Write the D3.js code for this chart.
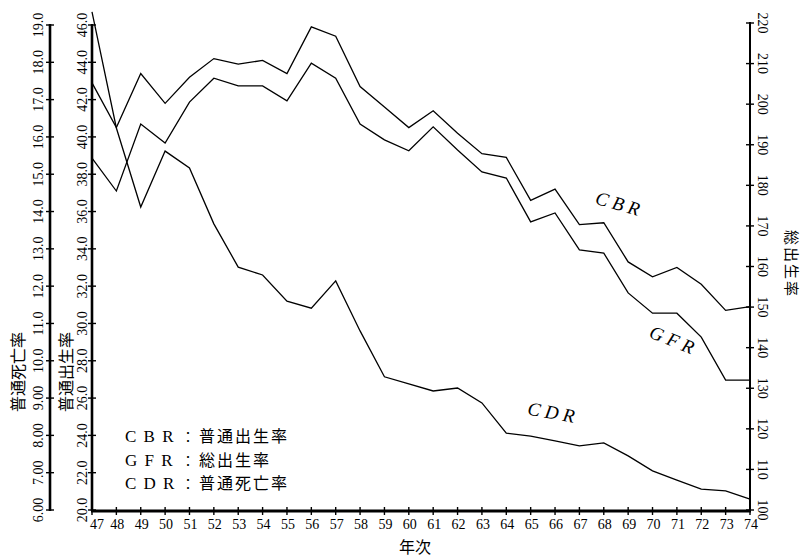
<!DOCTYPE html>
<html>
<head>
<meta charset="utf-8">
<script src="https://cdn.jsdelivr.net/npm/d3@7"></script>
<style>
html,body{margin:0;padding:0;background:#fff;}
svg{display:block;}
</style>
</head>
<body>
<svg id="chart" width="803" height="557"></svg>
<script>
// ---- data ----
const years = [47,48,49,50,51,52,53,54,55,56,57,58,59,60,61,62,63,64,65,66,67,68,69,70,71,72,73,74];
const cbr = [42.9,40.5,43.4,41.8,43.2,44.2,43.9,44.1,43.4,45.9,45.4,42.7,41.6,40.5,41.4,40.2,39.1,38.9,36.6,37.2,35.3,35.4,33.3,32.5,33.0,32.1,30.7,30.9];
const gfr = [186.7,178.6,195.1,190.4,200.5,206.4,204.5,204.5,200.8,210.1,206.4,195.1,191.2,188.5,194.4,188.7,183.3,181.8,171.0,173.2,164.1,163.3,153.5,148.5,148.5,142.6,132.0,132.0];
const cdr = [19.35,16.24,14.12,15.62,15.17,13.67,12.51,12.30,11.60,11.41,12.14,10.80,9.57,9.38,9.19,9.27,8.87,8.06,7.98,7.85,7.72,7.80,7.45,7.05,6.80,6.56,6.51,6.29];

const cdrTicks = [6,7,8,9,10,11,12,13,14,15,16,17,18,19];
const cdrTickLabels = ["6.00","7.00","8.00","9.00","10.0","11.0","12.0","13.0","14.0","15.0","16.0","17.0","18.0","19.0"];
const cbrTicks = [20,22,24,26,28,30,32,34,36,38,40,42,44,46];
const cbrTickLabels = ["20.0","22.0","24.0","26.0","28.0","30.0","32.0","34.0","36.0","38.0","40.0","42.0","44.0","46.0"];
const gfrTicks = [100,110,120,130,140,150,160,170,180,190,200,210,220];
const gfrTickLabels = ["100","110","120","130","140","150","160","170","180","190","200","210","220"];

const legendCodes = ["C B R","G F R","C D R"];
const legendNames = ["普通出生率","総出生率","普通死亡率"];
const leftTitleCDR = "普通死亡率";
const leftTitleCBR = "普通出生率";
const rightTitle = "総出生率";
const xTitle = "年次";

// ---- drawing ----
const svg = d3.select("#chart");
const serif = '"Liberation Serif","DejaVu Serif",serif';
const cjk = '"Noto Sans CJK JP","Noto Sans CJK SC",sans-serif';

const x = d3.scaleLinear().domain([47,74]).range([92,750]);
const yCBR = d3.scaleLinear().domain([20,46]).range([510,25]);
const yCDR = d3.scaleLinear().domain([6,19]).range([510,25]);
const yGFR = d3.scaleLinear().domain([100,220]).range([510,23]);

const axisCDRx = 50;
const axisBaseY = 511;

// CDR axis (far left)
const gCDR = svg.append("g");
gCDR.append("line").attr("x1",axisCDRx).attr("x2",axisCDRx)
  .attr("y1",yCDR(19)-1).attr("y2",yCDR(6)+1)
  .attr("stroke","#000").attr("stroke-width",2.6);
cdrTicks.forEach((t,i)=>{
  gCDR.append("line").attr("x1",axisCDRx-4).attr("x2",axisCDRx+4)
    .attr("y1",yCDR(t)).attr("y2",yCDR(t)).attr("stroke","#000").attr("stroke-width",1.4);
  gCDR.append("text").attr("transform",`translate(43,${yCDR(t)}) rotate(-90)`)
    .attr("text-anchor","middle").attr("font-family",serif).attr("font-size",14)
    .text(cdrTickLabels[i]);
});

// CBR axis (second left)
const gCBR = svg.append("g");
gCBR.append("line").attr("x1",x(47)).attr("x2",x(47))
  .attr("y1",yCBR(46)-1).attr("y2",axisBaseY)
  .attr("stroke","#000").attr("stroke-width",2.6);
cbrTicks.forEach((t,i)=>{
  gCBR.append("line").attr("x1",x(47)-4).attr("x2",x(47)+4)
    .attr("y1",yCBR(t)).attr("y2",yCBR(t)).attr("stroke","#000").attr("stroke-width",1.4);
  gCBR.append("text").attr("transform",`translate(87,${yCBR(t)}) rotate(-90)`)
    .attr("text-anchor","middle").attr("font-family",serif).attr("font-size",14)
    .text(cbrTickLabels[i]);
});

// right GFR axis
const gGFR = svg.append("g");
gGFR.append("line").attr("x1",x(74)).attr("x2",x(74))
  .attr("y1",yGFR(220)-1).attr("y2",axisBaseY)
  .attr("stroke","#000").attr("stroke-width",2);
gfrTicks.forEach((t,i)=>{
  gGFR.append("line").attr("x1",x(74)-4).attr("x2",x(74)+4)
    .attr("y1",yGFR(t)).attr("y2",yGFR(t)).attr("stroke","#000").attr("stroke-width",1.4);
  gGFR.append("text").attr("transform",`translate(758,${yGFR(t)}) rotate(90)`)
    .attr("text-anchor","middle").attr("font-family",serif).attr("font-size",14)
    .text(gfrTickLabels[i]);
});

// x axis
const gX = svg.append("g");
gX.append("line").attr("x1",x(47)-1).attr("x2",x(74)+1)
  .attr("y1",axisBaseY).attr("y2",axisBaseY)
  .attr("stroke","#000").attr("stroke-width",2.8);
years.forEach(yr=>{
  gX.append("line").attr("x1",x(yr)).attr("x2",x(yr))
    .attr("y1",axisBaseY-4).attr("y2",axisBaseY+4).attr("stroke","#000").attr("stroke-width",1.4);
  gX.append("text").attr("x",x(yr)+(yr===47?5:1)).attr("y",529)
    .attr("text-anchor","middle").attr("font-family",serif).attr("font-size",14)
    .text(yr);
});

// data lines
const lineOf = (ys, arr)=> d3.line().x((d,i)=>x(years[i])).y(d=>ys(d))(arr);
svg.append("path").attr("d",lineOf(yCBR,cbr)).attr("fill","none").attr("stroke","#000").attr("stroke-width",1.3);
svg.append("path").attr("d",lineOf(yGFR,gfr)).attr("fill","none").attr("stroke","#000").attr("stroke-width",1.3);
svg.append("path").attr("d",lineOf(yCDR,cdr)).attr("fill","none").attr("stroke","#000").attr("stroke-width",1.3);

// line labels
const lbl = (txt, cx, cy, ang)=> svg.append("text")
  .attr("transform",`translate(${cx},${cy}) rotate(${ang})`)
  .attr("text-anchor","middle").attr("font-family",serif).attr("font-size",19)
  .attr("font-style","italic").text(txt);
lbl(legendCodes[0], x(68.5), yCBR(36.1), 16);
lbl(legendCodes[1], x(70.7), yGFR(140.5), 22);
lbl(legendCodes[2], x(65.8), yCDR(8.45), 10);

// legend
legendCodes.forEach((c,i)=>{
  const t = svg.append("text").attr("x",125).attr("y",442+i*23.5)
    .attr("font-size",17).attr("font-family",serif);
  t.append("tspan").attr("letter-spacing",1.5).text(c);
  t.append("tspan").attr("x",181).attr("font-family",cjk).attr("font-size",14).text("：");
  t.append("tspan").attr("x",199).attr("font-family",cjk).attr("font-size",16).attr("letter-spacing",2).text(legendNames[i]);
});

// titles
svg.append("text").attr("transform","translate(24,372) rotate(-90)")
  .attr("text-anchor","middle").attr("font-family",cjk).attr("font-size",16)
  .text(leftTitleCDR);
svg.append("text").attr("transform","translate(72,372) rotate(-90)")
  .attr("text-anchor","middle").attr("font-family",cjk).attr("font-size",16)
  .text(leftTitleCBR);
svg.append("text").attr("transform","translate(786,264) rotate(90)")
  .attr("text-anchor","middle").attr("font-family",cjk).attr("font-size",15)
  .attr("letter-spacing",2).text(rightTitle);
svg.append("text").attr("x",415).attr("y",553)
  .attr("text-anchor","middle").attr("font-family",cjk).attr("font-size",16)
  .text(xTitle);
</script>
</body>
</html>
